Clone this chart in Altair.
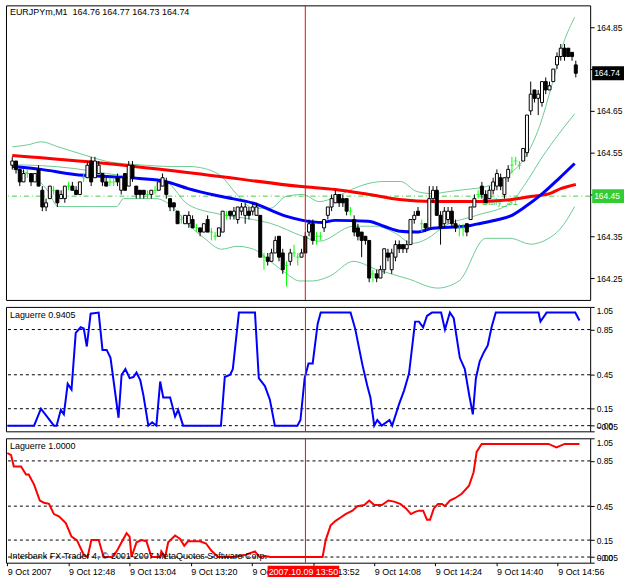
import altair as alt
import pandas as pd

FONT = "Liberation Sans"

symbol = "EURJPYm,M1"
start_label = "2007.10.09 13:50"
copyright_text = "Interbank FX Trader 4, \u00a9 2001-2007 MetaQuotes Software Corp."
lag1_title = "Laguerre 0.9405"
lag2_title = "Laguerre 1.0000"
s1_name = "Daily_S1"

# ---- candles, one per minute from 9 Oct 12:32 ----
opens = [164.52,164.53,164.51,164.48,164.50,164.50,164.48,164.51,164.46,164.42,
         164.44,164.46,164.46,164.44,164.44,164.47,164.47,164.46,164.45,164.49,
         164.49,164.53,164.49,164.50,164.50,164.48,164.48,164.48,164.49,164.46,
         164.50,164.47,164.52,164.47,164.46,164.46,164.45,164.45,164.46,164.46,
         164.47,164.48,164.44,164.43,164.41,164.39,164.38,164.38,164.39,164.37,
         164.37,164.36,164.39,164.36,164.35,164.35,164.36,164.40,164.41,164.40,
         164.39,164.41,164.40,164.41,164.41,164.40,164.40,164.30,164.30,164.29,
         164.31,164.35,164.31,164.28,164.29,164.31,164.30,164.30,164.35,164.36,
         164.38,164.35,164.35,164.37,164.40,164.42,164.43,164.45,164.44,164.44,
         164.41,164.39,164.37,164.36,164.35,164.34,164.26,164.26,164.25,164.27,
         164.31,164.27,164.30,164.33,164.33,164.32,164.33,164.39,164.41,164.38,
         164.38,164.37,164.44,164.46,164.40,164.38,164.39,164.41,164.38,164.37,
         164.37,164.38,164.39,164.42,164.45,164.47,164.45,164.44,164.46,164.47,
         164.49,164.45,164.49,164.52,164.53,164.52,164.53,164.55,164.65,164.70,
         164.68,164.67,164.72,164.70,164.72,164.76,164.78,164.80,164.80,164.79,
         164.76]
highs = [164.54,164.53,164.51,164.51,164.51,164.50,164.50,164.52,164.47,164.44,
         164.47,164.47,164.46,164.46,164.47,164.48,164.48,164.47,164.48,164.50,
         164.53,164.54,164.54,164.53,164.50,164.49,164.49,164.49,164.50,164.49,
         164.50,164.53,164.53,164.47,164.46,164.46,164.46,164.46,164.47,164.48,
         164.50,164.49,164.44,164.43,164.41,164.40,164.40,164.41,164.40,164.38,
         164.37,164.38,164.40,164.37,164.36,164.37,164.41,164.41,164.41,164.42,
         164.42,164.43,164.43,164.42,164.43,164.43,164.40,164.31,164.31,164.32,
         164.35,164.35,164.32,164.29,164.32,164.33,164.31,164.32,164.36,164.39,
         164.39,164.36,164.36,164.39,164.42,164.45,164.46,164.45,164.45,164.44,
         164.42,164.40,164.38,164.36,164.35,164.34,164.27,164.27,164.28,164.32,
         164.32,164.32,164.34,164.34,164.33,164.34,164.39,164.41,164.42,164.39,
         164.38,164.47,164.47,164.47,164.41,164.42,164.42,164.42,164.39,164.38,
         164.38,164.38,164.42,164.45,164.46,164.48,164.46,164.47,164.49,164.51,
         164.50,164.49,164.52,164.54,164.54,164.53,164.56,164.64,164.72,164.70,
         164.70,164.72,164.73,164.72,164.75,164.79,164.81,164.81,164.80,164.79,
         164.77]
lows = [164.51,164.50,164.47,164.48,164.49,164.47,164.48,164.47,164.41,164.41,
        164.44,164.45,164.42,164.44,164.43,164.46,164.46,164.45,164.45,164.48,
        164.49,164.47,164.49,164.50,164.47,164.47,164.47,164.47,164.47,164.45,
        164.46,164.47,164.48,164.44,164.44,164.44,164.44,164.44,164.45,164.46,
        164.47,164.44,164.41,164.41,164.38,164.38,164.38,164.37,164.37,164.36,
        164.35,164.36,164.36,164.34,164.34,164.35,164.36,164.39,164.39,164.39,
        164.38,164.40,164.38,164.39,164.40,164.40,164.30,164.27,164.28,164.29,
        164.31,164.29,164.26,164.23,164.28,164.30,164.28,164.30,164.31,164.35,
        164.33,164.33,164.34,164.36,164.39,164.41,164.43,164.42,164.42,164.40,
        164.40,164.35,164.34,164.30,164.33,164.24,164.24,164.24,164.25,164.26,
        164.29,164.26,164.29,164.31,164.31,164.31,164.33,164.38,164.40,164.36,
        164.36,164.37,164.43,164.40,164.33,164.37,164.38,164.37,164.36,164.35,
        164.35,164.35,164.39,164.42,164.44,164.44,164.43,164.44,164.45,164.46,
        164.46,164.44,164.48,164.50,164.52,164.51,164.53,164.54,164.64,164.67,
        164.64,164.66,164.69,164.70,164.72,164.75,164.77,164.77,164.78,164.77,
        164.73]
closes = [164.53,164.51,164.48,164.50,164.50,164.48,164.50,164.47,164.42,164.43,
          164.47,164.46,164.43,164.45,164.47,164.47,164.46,164.45,164.48,164.49,
          164.52,164.48,164.53,164.52,164.48,164.47,164.48,164.48,164.48,164.49,
          164.46,164.52,164.49,164.45,164.45,164.45,164.45,164.46,164.46,164.48,
          164.49,164.45,164.42,164.42,164.38,164.39,164.40,164.40,164.37,164.37,
          164.36,164.38,164.36,164.36,164.35,164.37,164.41,164.40,164.40,164.41,
          164.42,164.42,164.42,164.40,164.42,164.42,164.30,164.30,164.29,164.31,
          164.34,164.30,164.27,164.28,164.31,164.31,164.30,164.31,164.31,164.38,
          164.34,164.35,164.35,164.39,164.42,164.44,164.45,164.43,164.43,164.41,
          164.41,164.36,164.35,164.34,164.34,164.25,164.26,164.25,164.27,164.32,
          164.30,164.31,164.33,164.32,164.32,164.33,164.39,164.40,164.40,164.38,
          164.37,164.44,164.46,164.40,164.37,164.41,164.41,164.38,164.37,164.37,
          164.37,164.36,164.42,164.44,164.45,164.45,164.43,164.46,164.48,164.50,
          164.47,164.49,164.51,164.52,164.53,164.52,164.56,164.64,164.69,164.68,
          164.69,164.72,164.70,164.71,164.75,164.78,164.80,164.78,164.78,164.78,
          164.74]

# ---- moving averages (minute, price) ----
ma_red_t = [0, 25, 51, 77, 86, 95, 103, 112, 121, 129, 133, 138, 143, 146, 150]
ma_red_v = [164.543, 164.524, 164.498, 164.469, 164.462, 164.450, 164.438, 164.433,
            164.433, 164.435, 164.438, 164.445, 164.452, 164.464, 164.474]
ma_blue_t = [0, 7.7, 16.6, 25.2, 33.8, 40.8, 46.8, 55.7, 64.2, 72.8, 77.3, 82.5, 85.9,
             94.7, 98.9, 103.3, 107.7, 111.9, 120.8, 123.6, 129.4, 132.5, 136.6,
             141.1, 145.5, 149.7]
ma_blue_v = [164.517, 164.510, 164.498, 164.493, 164.488, 164.481, 164.464, 164.445,
             164.429, 164.398, 164.388, 164.383, 164.388, 164.386, 164.374, 164.362,
             164.360, 164.369, 164.374, 164.379, 164.390, 164.398, 164.421, 164.452,
             164.488, 164.524]

# ---- Bollinger bands ----
bb_up_t = [0, 4.3, 7.7, 12.2, 20.8, 25.2, 33.8, 42.6, 46.8, 51.2, 55.7, 59.8, 64.2,
           68.7, 72.8, 77.3, 81.7, 85.9, 90.3, 94.7, 98.9, 103.3, 107.7, 111.9,
           116.3, 120.8, 126.2, 132.5, 136.6, 140.3, 143.7, 146.8, 149.7]
bb_up_v = [164.564, 164.569, 164.576, 164.564, 164.540, 164.529, 164.521, 164.517,
           164.517, 164.512, 164.493, 164.450, 164.417, 164.417, 164.445, 164.450,
           164.433, 164.443, 164.462, 164.476, 164.481, 164.481, 164.457, 164.452,
           164.457, 164.462, 164.469, 164.500, 164.540, 164.612, 164.714, 164.814,
           164.874]
bb_mid_t = [0, 7.7, 16.6, 25.2, 33.8, 40.8, 46.8, 55.7, 64.2, 68.7, 77.3, 81.7, 90.8,
            96.8, 102, 106.4, 110.6, 115, 123.6, 132.5, 136.6, 141.1, 145.5, 149.7]
bb_mid_v = [164.521, 164.519, 164.512, 164.500, 164.490, 164.481, 164.426, 164.402,
            164.390, 164.381, 164.350, 164.338, 164.374, 164.374, 164.357, 164.333,
            164.345, 164.374, 164.400, 164.429, 164.476, 164.540, 164.595, 164.643]
bb_low_t = [0, 4.3, 9.6, 12.2, 20.8, 27.8, 29.6, 38.2, 42.6, 46.8, 51.2, 55.7, 59.8,
            64.2, 68.7, 72.8, 76.5, 79.9, 84.6, 90.8, 96.8, 105.4, 113.2, 118.9, 126,
            132.7, 137.9, 142.4, 145.8, 149.7]
bb_low_v = [164.510, 164.500, 164.457, 164.421, 164.421, 164.421, 164.440, 164.440,
            164.421, 164.379, 164.345, 164.319, 164.326, 164.319, 164.290, 164.262,
            164.243, 164.243, 164.255, 164.290, 164.271, 164.248, 164.226, 164.243,
            164.345, 164.345, 164.331, 164.343, 164.367, 164.421]
s1_level = 164.446
s1_label_t = 125

# ---- Laguerre indicators ----
lag1_t = [0, 7, 8.8, 12.2, 12.9, 14, 14.8, 15.8, 16.8, 17.9, 19.2, 20, 20.8, 21.8, 23.9,
          24.9, 26, 27, 29.1, 29.9, 30.9, 32, 33, 33.8, 34.8, 35.6, 36.9, 37.9, 39, 40,
          40.8, 41.6, 42.6, 43.9, 44.7, 46, 55.9, 56.9, 58.3, 59, 60.6, 64.8, 65.8,
          67.4, 68.7, 70, 75.9, 76.7, 77.8, 78.8, 79.9, 81.2, 82, 89.8, 91, 92.9, 94.2,
          95, 96, 96.8, 98, 100, 100.7, 102.5, 103.8, 105.1, 106.7, 107.7, 108.8, 109.8,
          111.1, 113.5, 114.5, 115.8, 116.8, 118.4, 119.7, 120.8, 121.8, 122.6, 123.6,
          124.7, 125.7, 126.7, 127.8, 139, 139.5, 141.1, 148.6, 149.7]
lag1_v = [0, 0, 0.15, 0, 0, 0.14, 0.10, 0.37, 0.32, 0.82, 0.87, 0.86, 0.70, 0.99, 1.0,
          0.67, 0.67, 0.60, 0.07, 0.45, 0.50, 0.42, 0.43, 0.47, 0.40, 0.27, 0, 0.03, 0,
          0.39, 0.25, 0.25, 0.25, 0.08, 0.14, 0, 0, 0.43, 0.45, 0.50, 1.0, 1.0, 0.42,
          0.35, 0.23, 0, 0, 0.05, 0.42, 0.55, 0.55, 0.90, 1.0, 1.0, 0.86, 0.54, 0.35,
          0.25, 0, 0.05, 0, 0.05, 0, 0.19, 0.31, 0.46, 0.92, 0.92, 0.87, 0.97, 1.0, 1.0,
          0.85, 1.0, 0.95, 0.60, 0.50, 0.28, 0.10, 0.42, 0.57, 0.65, 0.71, 0.87, 1.0,
          1.0, 0.92, 1.0, 1.0, 0.93]
lag2_t = [0, 1, 1.7, 3.6, 4.9, 5.6, 7, 8.5, 9.6, 10.9, 12.2, 13.5, 15.3, 16.8, 18.2, 20,
          21, 22, 23.9, 25.2, 27.3, 28.6, 29.9, 31.2, 32, 32.5, 33.8, 35.1, 36.4, 37.7,
          40, 40.3, 41.3, 42.1, 43.9, 45.2, 46.3, 47.3, 50.4, 52, 53.3, 55.1, 59, 62.4,
          64.8, 66, 67.6, 68.7, 80.7, 82.5, 83.3, 84.6, 85.9, 87.2, 88.5, 90.3, 91.6,
          93.4, 94.7, 96, 98, 99.7, 101.2, 102.8, 104.3, 105.6, 106.7, 107.7, 108.8,
          109.8, 110.6, 111.6, 112.7, 113.7, 114.5, 115.8, 117.1, 118.9, 120.8, 122,
          122.8, 124.1, 141.6, 143.7, 145.8, 149.7]
lag2_v = [0.92, 0.90, 0.80, 0.80, 0.73, 0.73, 0.64, 0.50, 0.48, 0.47, 0.38, 0.36, 0.30,
          0.18, 0.15, 0.02, 0, 0.15, 0.15, 0, 0, 0.05, 0.13, 0.21, 0.18, 0, 0.13, 0.15,
          0.14, 0, 0, 0.05, 0, 0.13, 0.19, 0.16, 0.10, 0.14, 0.14, 0.12, 0.06, 0, 0,
          0.02, 0.05, 0, 0.01, 0, 0, 0, 0.15, 0.28, 0.32, 0.35, 0.38, 0.41, 0.45, 0.46,
          0.50, 0.46, 0.46, 0.50, 0.49, 0.47, 0.43, 0.38, 0.40, 0.41, 0.41, 0.33, 0.33,
          0.43, 0.47, 0.47, 0.45, 0.50, 0.52, 0.56, 0.63, 0.75, 0.93, 1.0, 1.0, 0.97,
          1.0, 1.0]
lag_levels = [0.85, 0.45, 0.15, 0.0]
lag_ticks = [-0.05, 0.0, 0.15, 0.45, 0.85, 1.05]

price_ticks = [164.25, 164.35, 164.45, 164.55, 164.65, 164.75, 164.85]
hidden_price_labels = [164.75, 164.45]   # covered by the price boxes
tick_minutes = [0, 16, 32, 48, 64, 80, 96, 112, 128, 144]
tick_labels = ["9 Oct 2007", "9 Oct 12:48", "9 Oct 13:04", "9 Oct 13:20", "9 Oct 13:36",
               "9 Oct 13:52", "9 Oct 14:08", "9 Oct 14:24", "9 Oct 14:40", "9 Oct 14:56"]
marker_t = 78

# ---- layout ----
W = 587
H1, H2, H3 = 296, 125, 125
xscale = alt.Scale(domain=[-0.35, 152.5], nice=False, zero=False)
pscale = alt.Scale(domain=[164.1976, 164.9024], nice=False, zero=False)
lscale = alt.Scale(domain=[-0.05, 1.05], nice=False, zero=False)

hide_expr = " || ".join(f"abs(datum.value - {v}) < 0.001" for v in hidden_price_labels)
price_axis = alt.Axis(orient="right", values=price_ticks, tickSize=4, tickColor="black",
                      domain=False, grid=False, title=None, labelFont=FONT,
                      labelFontSize=8.5, labelColor="black", labelPadding=2,
                      labelOverlap=False,
                      labelExpr=f"({hide_expr}) ? '' : format(datum.value, '.2f')")
lag_axis = alt.Axis(orient="right", values=lag_ticks, format=".2f", tickSize=4,
                    tickColor="black", domain=False, grid=False, title=None,
                    labelFont=FONT, labelFontSize=8.5, labelColor="black",
                    labelPadding=2, labelOverlap=False, labelFlush=True)

xlab_expr = "''"
for m, lab in reversed(list(zip(tick_minutes, tick_labels))):
    xlab_expr = f"datum.value == {m} ? '{lab}' : ({xlab_expr})"
time_axis = alt.Axis(values=tick_minutes, labelExpr=xlab_expr, labelAlign="left",
                     labelBaseline="top", tickSize=3, tickColor="black", labelPadding=2,
                     domain=False, grid=False, title=None, labelFont=FONT,
                     labelFontSize=9, labelColor="black", labelOverlap=False,
                     labelFlush=False)

X = alt.X("t:Q", scale=xscale, axis=None)
XB = alt.X("t:Q", scale=xscale, axis=time_axis)


def PY(field):
    return alt.Y(field, scale=pscale, axis=price_axis)


def LY(field):
    return alt.Y(field, scale=lscale, axis=lag_axis)


kinds = ["doji" if o == c else ("up" if c > o else "down") for o, c in zip(opens, closes)]
candles = pd.DataFrame({"t": list(range(len(opens))), "open": opens, "high": highs,
                        "low": lows, "close": closes, "kind": kinds})

wicks = alt.Chart(candles).mark_rule(strokeWidth=1).encode(
    x=X, y=PY("low:Q"), y2="high:Q",
    color=alt.Color("kind:N", scale=alt.Scale(domain=["up", "down", "doji"],
                                              range=["#000000", "#000000", "#00FF00"]),
                    legend=None))
bodies = alt.Chart(candles).transform_filter("datum.kind != 'doji'").mark_bar(
    width=3, stroke="black", strokeWidth=1).encode(
    x=X, y=PY("open:Q"), y2="close:Q",
    fill=alt.Fill("kind:N", scale=alt.Scale(domain=["up", "down"], range=["white", "black"]),
                  legend=None))
dojis = alt.Chart(candles).transform_filter("datum.kind == 'doji'").mark_tick(
    orient="horizontal", size=4, thickness=1, color="#00FF00").encode(
    x=X, y=PY("open:Q"))


def pline(ts, vs, color, width):
    df = pd.DataFrame({"t": ts, "v": vs})
    return alt.Chart(df).mark_line(color=color, strokeWidth=width,
                                   interpolate="monotone").encode(x=X, y=PY("v:Q"))


band_color = "#6CCB94"
bb_up = pline(bb_up_t, bb_up_v, band_color, 1)
bb_mid = pline(bb_mid_t, bb_mid_v, band_color, 1)
bb_low = pline(bb_low_t, bb_low_v, band_color, 1)
ma_red = pline(ma_red_t, ma_red_v, "#FF0000", 3)
ma_blue = pline(ma_blue_t, ma_blue_v, "#0000FF", 3)

s1_df = pd.DataFrame({"p": [s1_level], "t": [s1_label_t], "name": [s1_name],
                      "lab": [f"{s1_level:.2f}"]})
s1_line = alt.Chart(s1_df).mark_rule(color="#44CC44", strokeWidth=1,
                                     strokeDash=[5, 3, 1, 3]).encode(y=PY("p:Q"))
s1_text = alt.Chart(s1_df).mark_text(align="left", baseline="top", dy=2, color="#44CC44",
                                     font=FONT, fontSize=9).encode(
    x=X, y=PY("p:Q"), text="name:N")
s1_box = alt.Chart(s1_df).mark_rect(color="#33CC33", yOffset=-7, y2Offset=7).encode(
    x=alt.value(W + 2), x2=alt.value(W + 34), y=PY("p:Q"), y2="p:Q")
s1_box_text = alt.Chart(s1_df).mark_text(align="left", baseline="middle", color="white",
                                         font=FONT, fontSize=8.5).encode(
    x=alt.value(W + 4), y=PY("p:Q"), text="lab:N")

last_df = pd.DataFrame({"p": [closes[-1]], "lab": [f"{closes[-1]:.2f}"]})
last_box = alt.Chart(last_df).mark_rect(color="black", yOffset=-7, y2Offset=7).encode(
    x=alt.value(W + 2), x2=alt.value(W + 34), y=PY("p:Q"), y2="p:Q")
last_text = alt.Chart(last_df).mark_text(align="left", baseline="middle", color="white",
                                         font=FONT, fontSize=8.5).encode(
    x=alt.value(W + 4), y=PY("p:Q"), text="lab:N")

header = f"{symbol}\u00a0\u00a0{opens[-1]:.2f} {highs[-1]:.2f} {lows[-1]:.2f} {closes[-1]:.2f}"


def label(text, x, y):
    df = pd.DataFrame({"s": [text]})
    return alt.Chart(df).mark_text(align="left", baseline="middle", color="black",
                                   font=FONT, fontSize=9).encode(
        x=alt.value(x), y=alt.value(y), text="s:N")


mk_df = pd.DataFrame({"t": [marker_t]})


def marker(xenc):
    return alt.Chart(mk_df).mark_rule(color="#FF0000", strokeWidth=1).encode(x=xenc)


panel1 = alt.layer(
    bb_up, bb_mid, bb_low, s1_line, s1_text, ma_red, ma_blue, wicks, bodies, dojis,
    marker(X), s1_box, s1_box_text, last_box, last_text, label(header, 4, 7)
).properties(width=W, height=H1)


def lag_panel(ts, vs, color, title, h, bottom):
    xenc = XB if bottom else X
    lev_df = pd.DataFrame({"v": lag_levels})
    levels = alt.Chart(lev_df).mark_rule(color="black", strokeWidth=1,
                                         strokeDash=[3, 3]).encode(y=LY("v:Q"))
    df = pd.DataFrame({"t": ts, "v": vs})
    line = alt.Chart(df).mark_line(color=color, strokeWidth=2).encode(x=xenc, y=LY("v:Q"))
    layers = [levels, line, marker(xenc), label(title, 4, 8)]
    if bottom:
        layers.append(label(copyright_text, 4, h - 7))
        box_df = pd.DataFrame({"t": [marker_t], "s": [start_label]})
        layers.append(alt.Chart(box_df).mark_rect(color="#FF0000", xOffset=-38,
                                                  x2Offset=34).encode(
            x=xenc, x2="t:Q", y=alt.value(h + 3), y2=alt.value(h + 16)))
        layers.append(alt.Chart(box_df).mark_text(align="center", baseline="middle",
                                                  color="white", font=FONT, fontSize=9,
                                                  dx=-2).encode(
            x=xenc, y=alt.value(h + 9.5), text="s:N"))
    return alt.layer(*layers).properties(width=W, height=h)


panel2 = lag_panel(lag1_t, lag1_v, "#0000FF", lag1_title, H2, False)
panel3 = lag_panel(lag2_t, lag2_v, "#FF0000", lag2_title, H3, True)

chart = alt.vconcat(panel1, panel2, panel3, spacing=5).resolve_scale(
    x="independent", y="independent", color="independent", fill="independent"
).properties(
    padding={"left": 2, "top": 3, "right": 0, "bottom": 0},
    background="white",
).configure_view(stroke="black", strokeWidth=1, fill="white")

chart.save("out.html", embed_options={"renderer": "svg", "actions": False})
